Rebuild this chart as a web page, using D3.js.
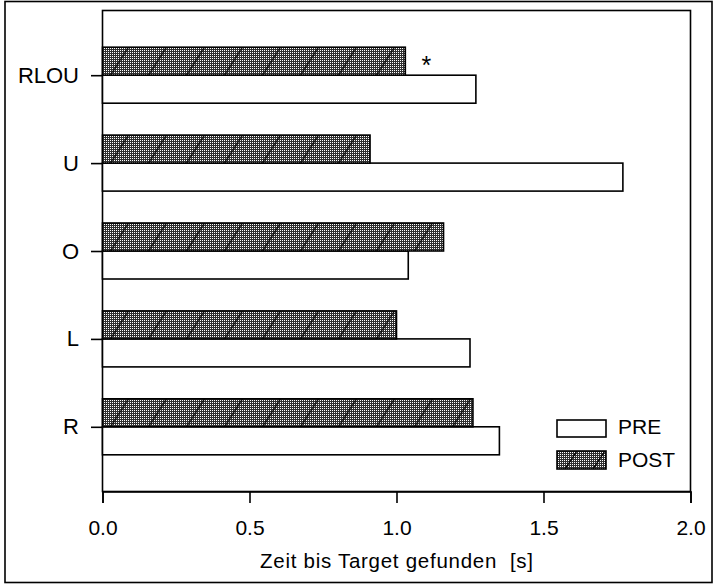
<!DOCTYPE html>
<html>
<head>
<meta charset="utf-8">
<script src="https://cdn.jsdelivr.net/npm/d3@7"></script>
<style>
  html, body { margin: 0; padding: 0; background: #fff; }
  svg { display: block; }
  text { font-family: "Liberation Sans", Arial, Helvetica, sans-serif; fill: #000; }
</style>
</head>
<body>
<svg id="chart" width="716" height="584"></svg>
<script>
// Search time per target region, before (PRE) and after (POST) training
const categories = ["RLOU", "U", "O", "L", "R"];
const preValues  = [1.27, 1.77, 1.04, 1.25, 1.35];
const postValues = [1.03, 0.91, 1.16, 1.00, 1.26];
const xTicks = [0, 0.5, 1.0, 1.5, 2.0];
const xLabel = "Zeit bis Target gefunden\u00a0\u00a0[s]";
const seriesNames = ["PRE", "POST"];
const markedCategory = "RLOU"; // significant difference

const svg = d3.select("#chart");
const box = { left: 102.5, right: 690.5, top: 10.5, bottom: 491.5 };
const barH = 28;

const x = d3.scaleLinear().domain([0, 2]).range([box.left, box.right]);
const y = d3.scalePoint().domain(categories).range([box.top, box.bottom]).padding(0.736);

const defs = svg.append("defs");

// halftone grey fill
const dots = defs.append("pattern")
  .attr("id", "dots").attr("patternUnits", "userSpaceOnUse")
  .attr("width", 2).attr("height", 2);
dots.append("rect").attr("width", 2).attr("height", 2).attr("fill", "#303030");
dots.append("rect").attr("width", 1).attr("height", 1).attr("fill", "#ffffff");

// diagonal hatch, one pattern per POST bar so the stripes span the bar height
const hatchStep = 38, hatchRun = 18;
categories.forEach((c, i) => {
  const p = defs.append("pattern")
    .attr("id", "hatch" + i).attr("patternUnits", "userSpaceOnUse")
    .attr("x", x(0)).attr("y", y(c) - barH)
    .attr("width", hatchStep).attr("height", barH);
  p.append("line")
    .attr("x1", 8).attr("y1", barH).attr("x2", 8 + hatchRun).attr("y2", 0)
    .attr("stroke", "#000").attr("stroke-width", 1.2);
});

// outer frame
svg.append("rect")
  .attr("x", 5).attr("y", 1.5).attr("width", 707).attr("height", 581)
  .attr("fill", "none").attr("stroke", "#000").attr("stroke-width", 1.6);

// plot box
svg.append("rect")
  .attr("x", box.left).attr("y", box.top)
  .attr("width", box.right - box.left).attr("height", box.bottom - box.top)
  .attr("fill", "none").attr("stroke", "#000").attr("stroke-width", 1.6);

// PRE bars (below category line)
svg.append("g").selectAll("rect")
  .data(categories)
  .join("rect")
  .attr("x", x(0))
  .attr("y", c => y(c))
  .attr("width", (c, i) => x(preValues[i]) - x(0))
  .attr("height", barH)
  .attr("fill", "#fff").attr("stroke", "#000").attr("stroke-width", 1.6);

// POST bars (above category line)
const post = svg.append("g").selectAll("g")
  .data(categories)
  .join("g");
post.append("rect")
  .attr("x", x(0)).attr("y", c => y(c) - barH)
  .attr("width", (c, i) => x(postValues[i]) - x(0)).attr("height", barH)
  .attr("fill", "url(#dots)");
post.append("rect")
  .attr("x", x(0)).attr("y", c => y(c) - barH)
  .attr("width", (c, i) => x(postValues[i]) - x(0)).attr("height", barH)
  .attr("fill", (c, i) => "url(#hatch" + i + ")")
  .attr("stroke", "#000").attr("stroke-width", 1.6);

// significance marker
const mi = categories.indexOf(markedCategory);
svg.append("text")
  .attr("x", x(postValues[mi]) + 21)
  .attr("y", y(markedCategory) - 1)
  .attr("text-anchor", "middle")
  .attr("font-size", 25)
  .text("*");

// x axis
const xAxis = d3.axisBottom(x)
  .tickValues(xTicks)
  .tickFormat(d3.format(".1f"))
  .tickSize(11.5)
  .tickSizeOuter(11.5)
  .tickPadding(17);
const gx = svg.append("g").attr("transform", `translate(0,${box.bottom})`).call(xAxis);
gx.select(".domain").attr("stroke-width", 1.6);
gx.selectAll(".tick line").attr("stroke-width", 1.6);
gx.selectAll(".tick text").attr("font-size", 21);

// y axis
const yAxis = d3.axisLeft(y).tickSize(11.5).tickSizeOuter(0).tickPadding(12);
const gy = svg.append("g").attr("transform", `translate(${box.left},0)`).call(yAxis);
gy.select(".domain").remove();
gy.selectAll(".tick line").attr("stroke-width", 1.6);
gy.selectAll(".tick text").attr("font-size", 22);
svg.selectAll("g[font-family]").attr("font-family", null);
svg.selectAll(".tick text").attr("fill", "#000");

// axis title
svg.append("text")
  .attr("x", x(1)).attr("y", 568)
  .attr("text-anchor", "middle")
  .attr("font-size", 20.5)
  .attr("textLength", 273).attr("lengthAdjust", "spacing")
  .text(xLabel);

// legend
const legend = svg.append("g");
const legY = [420, 451];
legend.append("rect")
  .attr("x", 557).attr("y", legY[0]).attr("width", 49).attr("height", 17)
  .attr("fill", "#fff").attr("stroke", "#000").attr("stroke-width", 1.6);
const lp = defs.append("pattern")
  .attr("id", "hatchLeg").attr("patternUnits", "userSpaceOnUse")
  .attr("x", 557).attr("y", legY[1]).attr("width", 28).attr("height", 18);
lp.append("line").attr("x1", 8).attr("y1", 18).attr("x2", 20).attr("y2", 0)
  .attr("stroke", "#000").attr("stroke-width", 1.2);
legend.append("rect")
  .attr("x", 557).attr("y", legY[1]).attr("width", 49).attr("height", 18)
  .attr("fill", "url(#dots)");
legend.append("rect")
  .attr("x", 557).attr("y", legY[1]).attr("width", 49).attr("height", 18)
  .attr("fill", "url(#hatchLeg)").attr("stroke", "#000").attr("stroke-width", 1.6);
legend.selectAll("text.lab")
  .data(seriesNames)
  .join("text")
  .attr("class", "lab")
  .attr("x", 618)
  .attr("y", (d, i) => [434, 467][i])
  .attr("font-size", 21)
  .text(d => d);
</script>
</body>
</html>
